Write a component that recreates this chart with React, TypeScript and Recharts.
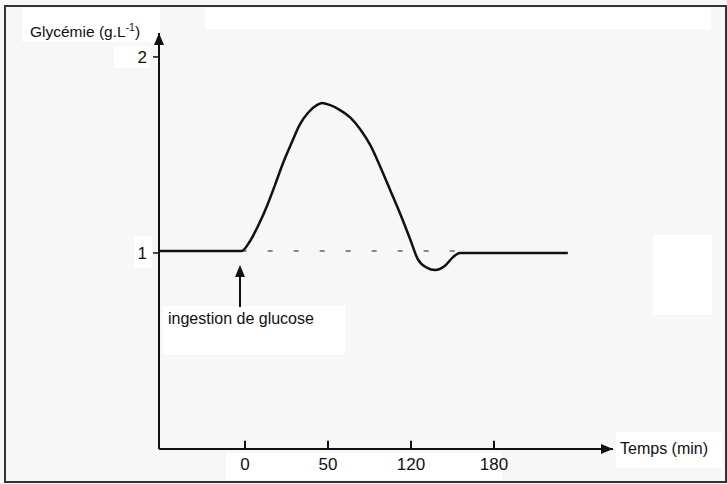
import React from "react";
import {
  LineChart,
  Line,
  XAxis,
  YAxis,
  ReferenceLine,
  ReferenceDot,
} from "recharts";

// x positions are in graduations: tick i sits at position i
const tickPositions = [0, 1, 2, 3];
const tickLabels = ["0", "50", "120", "180"];
const yTicks = [1, 2];

// glycaemia curve (g/L)
const curveX = [
  -1.04, -0.04, 0.06, 0.16, 0.27, 0.36, 0.46, 0.57, 0.66, 0.76, 0.87, 0.93, 1.02, 1.14,
  1.27, 1.39, 1.51, 1.63, 1.75, 1.87, 1.99, 2.08, 2.19, 2.29, 2.41, 2.51, 2.59, 3.89,
];
const curveY = [
  1.01, 1.01, 1.06, 1.14, 1.245, 1.345, 1.46, 1.57, 1.655, 1.715, 1.755, 1.765, 1.755, 1.73,
  1.69, 1.63, 1.55, 1.44, 1.32, 1.2, 1.07, 0.97, 0.925, 0.913, 0.935, 0.98, 1.0, 1.0,
];

// dashed reference level
const baselineX = [-0.04, 2.59];
const baselineY = [1.01, 1.01];

// ingestion arrow
const ingestionX = -0.06;
const ingestionFrom = 0.724;
const ingestionTip = 0.939;

const X_MIN = -1.036;
const X_MAX = 4.434;
const Y_MAX = 2.122;

const curveData = curveX.map((x, i) => ({ x, y: curveY[i] }));
const baselineData = baselineX.map((x, i) => ({ x, y: baselineY[i] }));

const FONT = "'Liberation Sans', Arial, sans-serif";
const INK = "#111";

const whiteBoxes = [
  { left: 22, top: 8, width: 138, height: 34 },
  { left: 205, top: 8, width: 506, height: 21 },
  { left: 114, top: 46, width: 36, height: 22 },
  { left: 134, top: 236, width: 18, height: 32 },
  { left: 163, top: 306, width: 182, height: 49 },
  { left: 653, top: 235, width: 59, height: 80 },
  { left: 226, top: 453, width: 276, height: 27 },
  { left: 616, top: 432, width: 106, height: 36 },
];

const upArrow = (props: any) => {
  const { cx, cy } = props;
  return <path d={`M${cx},${cy} L${cx - 5},${cy + 12} L${cx + 5},${cy + 12} Z`} fill={INK} />;
};

const rightArrow = (props: any) => {
  const { cx, cy } = props;
  return <path d={`M${cx},${cy} L${cx - 12},${cy - 5} L${cx - 12},${cy + 5} Z`} fill={INK} />;
};

export default function App() {
  return (
    <div
      style={{
        position: "absolute",
        left: 0,
        top: 0,
        width: 727,
        height: 484,
        background: "#f7f7f7",
        fontFamily: FONT,
        overflow: "hidden",
      }}
    >
      {whiteBoxes.map((b, i) => (
        <div key={i} style={{ position: "absolute", background: "#fff", ...b }} />
      ))}
      <div
        style={{
          position: "absolute",
          left: 4,
          top: 5,
          width: 719,
          height: 474,
          border: "2px solid #333",
        }}
      />
      <div style={{ position: "absolute", left: 0, top: 0 }}>
        <LineChart
          width={727}
          height={484}
          margin={{ top: 33, right: 114, left: 119, bottom: 5 }}
        >
          <XAxis
            dataKey="x"
            type="number"
            domain={[X_MIN, X_MAX]}
            allowDataOverflow
            ticks={tickPositions}
            tickFormatter={(v: number) => tickLabels[tickPositions.indexOf(v)] ?? ""}
            axisLine={{ stroke: INK, strokeWidth: 2 }}
            tickLine={false}
            tickSize={7}
            tickMargin={2}
            height={30}
            tick={{ fill: INK, fontSize: 17, fontFamily: FONT }}
          />
          <YAxis
            type="number"
            domain={[0, Y_MAX]}
            allowDataOverflow
            ticks={yTicks}
            axisLine={{ stroke: INK, strokeWidth: 2 }}
            tickLine={{ stroke: INK, strokeWidth: 1.5 }}
            tickSize={6}
            tickMargin={6}
            width={40}
            tick={{ fill: INK, fontSize: 17, fontFamily: FONT }}
          />
          {tickPositions.map((t) => (
            <ReferenceLine
              key={t}
              segment={[{ x: t, y: 0 }, { x: t, y: 0.042 }]}
              stroke={INK}
              strokeWidth={2}
            />
          ))}
          <ReferenceLine
            segment={[{ x: ingestionX, y: ingestionFrom }, { x: ingestionX, y: ingestionTip - 0.03 }]}
            stroke={INK}
            strokeWidth={2}
          />
          <ReferenceDot x={ingestionX} y={ingestionTip} ifOverflow="visible" shape={upArrow} />
          <ReferenceDot x={X_MIN} y={Y_MAX} ifOverflow="visible" shape={upArrow} />
          <ReferenceDot x={X_MAX} y={0} ifOverflow="visible" shape={rightArrow} />
          <Line
            data={baselineData}
            dataKey="y"
            type="linear"
            stroke="#8a8a8a"
            strokeWidth={2}
            strokeDasharray="5 21"
            dot={false}
            isAnimationActive={false}
          />
          <Line
            data={curveData}
            dataKey="y"
            type="monotone"
            stroke={INK}
            strokeWidth={2.5}
            dot={false}
            isAnimationActive={false}
          />
        </LineChart>
      </div>
      <div
        style={{
          position: "absolute",
          left: 30,
          top: 18,
          fontSize: 15.5,
          color: INK,
          whiteSpace: "nowrap",
          lineHeight: "18px",
        }}
      >
        Glycémie (g.L<sup style={{ fontSize: 10.5 }}>-1</sup>)
      </div>
      <div
        style={{
          position: "absolute",
          left: 168,
          top: 310,
          fontSize: 16,
          color: INK,
          whiteSpace: "nowrap",
          lineHeight: "18px",
        }}
      >
        ingestion de glucose
      </div>
      <div
        style={{
          position: "absolute",
          left: 620,
          top: 440,
          fontSize: 16,
          color: INK,
          whiteSpace: "nowrap",
          lineHeight: "18px",
        }}
      >
        Temps (min)
      </div>
    </div>
  );
}
